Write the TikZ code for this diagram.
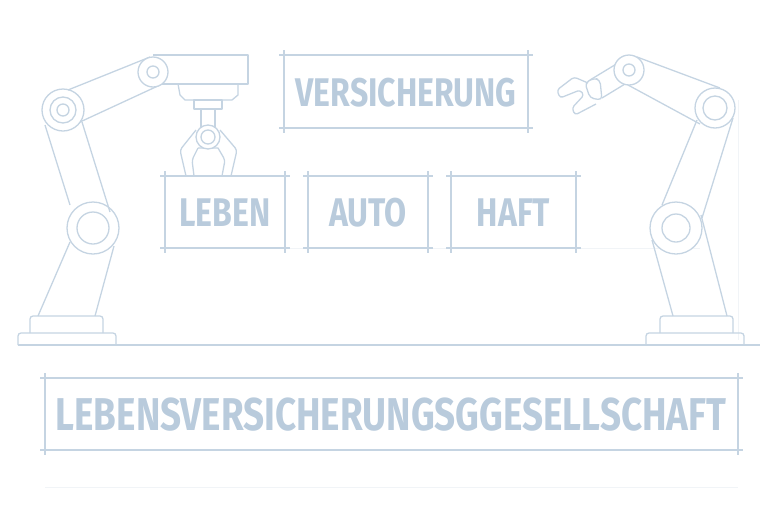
\documentclass[tikz,border=0pt]{standalone}
\usepackage{fontspec}
\setmainfont{Fira Sans}[FakeStretch=0.8]
\definecolor{linec}{HTML}{C5D4E2}
\definecolor{textc}{HTML}{B9CBDC}
\definecolor{guidec}{HTML}{F1F4F7}
\begin{document}
\begin{tikzpicture}[x=1pt,y=-1pt,line join=round,
    part/.style ={draw=linec, line width=1.3pt},
    guide/.style ={draw=guidec, line width=0.8pt},
    label/.style ={text=textc, font=\fontsize{40}{40}\selectfont\bfseries}]
  \useasboundingbox (0,0) rectangle (768,512);
  % faint guides
  \draw[guide] (165,248) -- (700,248);
  \draw[guide] (45,487) -- (738,487);
  \draw[guide] (738,100) -- (738,340);
  % labelled boxes
  \foreach \nm/\xa/\ya/\xb/\yb/\txt in {vers/284/55/528/128/VERSICHERUNG,
      leben/165/176/285/248/LEBEN, auto/308/176/428/248/AUTO,
      haft/451/176/576/248/HAFT} {
    \draw[part] (\xa-5,\ya) -- (\xb+5,\ya) (\xa-5,\yb) -- (\xb+5,\yb)
                (\xa,\ya-5) -- (\xa,\yb+5) (\xb,\ya-5) -- (\xb,\yb+5);
    \node[label] (\nm) at ({(\xa+\xb)/2},{(\ya+\yb)/2+1}) {\txt};
  }
  \draw[part] (40,378) -- (743,378) (40,450) -- (743,450)
              (45,373) -- (45,455) (738,373) -- (738,455);
  \node[label, font=\fontsize{46}{46}\selectfont\bfseries] (firma) at (391,415)
    {LEBENSVERSICHERUNGSGGESELLSCHAFT};
  % floor
  \draw[part] (18,345) -- (760,345);
  % left robot
  \draw[part, rounded corners=3pt] (18,345) -- (18,333) -- (116,333) -- (116,345);
  \draw[part, rounded corners=3pt] (30,333) -- (30,316) -- (103,316) -- (103,333);
  \draw[part] (38,316) -- (70,242) (95,316) -- (114,246);
  \draw[part, fill=white] (93,228) circle (26) (93,228) circle (16);
  \draw[part] (70,205) -- (45,125) (110,212) -- (82,122);
  \draw[part, fill=white] (63,110) circle (21) (63,110) circle (13) (63,110) circle (6);
  \draw[part] (68,90) -- (150,57) (80,122) -- (160,85);
  \draw[part] (153,55) -- (248,55) -- (248,84) -- (153,84);
  \draw[part, fill=white] (153,72) circle (15) (153,72) circle (6);
  \draw[part] (178,84) -- (180,95) -- (185,100) -- (232,100) -- (238,95) -- (238,84);
  \draw[part] (194,100) rectangle (222,109);
  \draw[part] (201,109) -- (201,127) (215,109) -- (215,127);
  \draw[part, rounded corners=3pt] (196,130) -- (180,150) -- (186,176)
    (220,130) -- (237,150) -- (231,176)
    (198,148) -- (192,160) -- (194,176) (218,148) -- (225,160) -- (222,176)
    (198,148) -- (218,148);
  \draw[part, fill=white] (208,137) circle (12) (208,137) circle (7);
  % right robot
  \draw[part, rounded corners=3pt] (646,345) -- (646,333) -- (744,333) -- (744,345);
  \draw[part, rounded corners=3pt] (660,333) -- (660,316) -- (733,316) -- (733,333);
  \draw[part] (673,316) -- (652,240) (727,316) -- (701,215);
  \draw[part, fill=white] (676,228) circle (26) (676,228) circle (14);
  \draw[part] (662,205) -- (697,120) (702,218) -- (733,118);
  \draw[part, fill=white] (715,108) circle (20) (715,108) circle (12);
  \draw[part] (637,57) -- (720,88) (628,85) -- (700,124);
  \draw[part] (618,63) -- (590,80) (625,84) -- (602,98);
  \draw[part, fill=white] (629,70) circle (15) (629,70) circle (6);
  \draw[part, rounded corners=4pt] (594,78) -- (585,83) -- (590,98) -- (602,100)
    -- (600,80) -- cycle;
  \draw[part, rounded corners=3pt] (588,83) -- (574,77) -- (557,90) -- (560,98)
    -- (580,90) -- (584,95) -- (572,108) -- (575,115) -- (596,104);
\end{tikzpicture}
\end{document}
